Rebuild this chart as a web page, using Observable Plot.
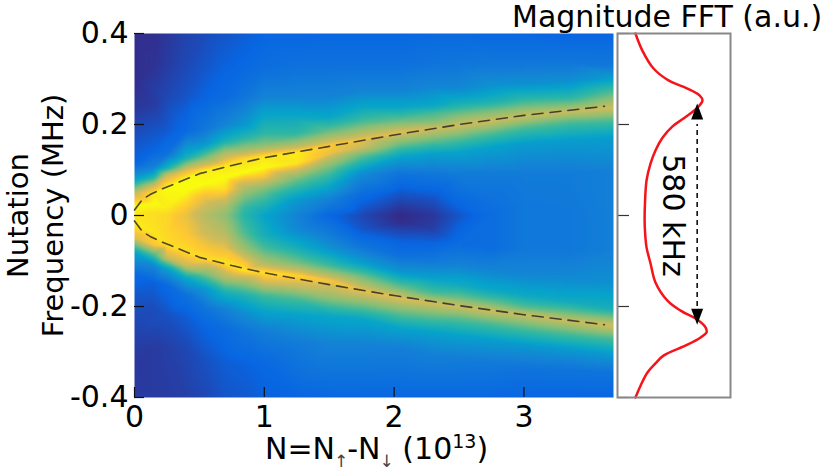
<!DOCTYPE html>
<html><head><meta charset="utf-8">
<script src="https://cdn.jsdelivr.net/npm/d3@7"></script>
<script src="https://cdn.jsdelivr.net/npm/@observablehq/plot@0.6"></script>
<style>
html,body{margin:0;padding:0;background:#fff}
#wrap{position:relative;width:830px;height:470px;font-family:"DejaVu Sans",sans-serif;color:#000;overflow:hidden}
#wrap svg{position:absolute;left:0;top:0;background:transparent}
.lbl{position:absolute;white-space:nowrap;font-size:30px;line-height:30px}
.lbl sub{font-size:17px;line-height:0;color:#444;vertical-align:-8px;margin:0 -1px}
.lbl sup{font-size:19px;line-height:0;vertical-align:11px}
</style></head><body><div id="wrap"></div>
<script>
// Heat map samples, one column per N value
const colX = [0, 0.15, 0.25, 0.4, 0.55, 0.7, 0.85, 1, 1.25, 1.5, 1.75, 2.05, 2.3, 2.5, 2.75, 3, 3.35, 3.69];
const colY = [
 [.4,.3,.237,.17,.114,.077,.048,.02,0,-.02,-.05,-.08,-.13,-.19,-.257,-.33,-.4],
 [.4,.33,.246,.193,.143,.105,.083,.066,.048,.026,.004,-.007,-.037,-.066,-.088,-.11,-.147,-.205,-.29,-.4],
 [.4,.334,.26,.187,.136,.105,.088,.06,.018,0,-.037,-.066,-.092,-.117,-.154,-.22,-.29,-.4],
 [.4,.334,.26,.187,.128,.1,.08,.055,.018,0,-.044,-.08,-.11,-.138,-.176,-.22,-.29,-.4],
 [.4,.334,.26,.19,.158,.125,.1,.07,.033,0,-.037,-.07,-.095,-.128,-.16,-.205,-.25,-.323,-.4],
 [.4,.334,.26,.2,.165,.136,.11,.083,.055,.018,0,-.037,-.073,-.105,-.138,-.17,-.205,-.248,-.323,-.4],
 [.4,.334,.26,.2,.171,.143,.125,.095,.062,.018,0,-.037,-.073,-.103,-.121,-.147,-.176,-.213,-.257,-.33,-.4],
 [.4,.33,.26,.224,.18,.155,.13,.105,.083,.055,.01,0,-.044,-.073,-.103,-.125,-.147,-.176,-.213,-.257,-.33,-.4],
 [.4,.334,.26,.21,.18,.154,.138,.114,.077,.033,0,-.03,-.066,-.103,-.132,-.154,-.182,-.22,-.28,-.4],
 [.4,.334,.26,.215,.187,.154,.136,.105,.06,.033,0,-.044,-.073,-.11,-.143,-.182,-.22,-.28,-.4],
 [.4,.334,.275,.237,.205,.167,.15,.132,.092,.048,0,-.03,-.066,-.103,-.132,-.165,-.191,-.226,-.28,-.4],
 [.4,.334,.275,.237,.21,.183,.158,.128,.092,.048,.012,0,-.015,-.05,-.088,-.125,-.158,-.182,-.213,-.25,-.292,-.4],
 [.4,.334,.28,.24,.226,.204,.191,.165,.136,.092,.04,0,-.03,-.066,-.103,-.138,-.171,-.193,-.22,-.257,-.308,-.4],
 [.4,.334,.28,.246,.22,.198,.17,.138,.092,.026,0,-.06,-.11,-.154,-.182,-.2,-.226,-.264,-.314,-.4],
 [.4,.334,.285,.25,.228,.208,.18,.15,.092,.03,0,-.07,-.12,-.165,-.193,-.21,-.238,-.275,-.325,-.4],
 [.4,.334,.29,.257,.237,.218,.193,.158,.092,.026,0,-.073,-.132,-.176,-.202,-.218,-.248,-.286,-.336,-.4],
 [.4,.334,.295,.26,.24,.228,.205,.165,.092,0,-.073,-.14,-.19,-.215,-.232,-.26,-.296,-.34,-.4],
 [.4,.33,.303,.268,.237,.209,.17,.095,0,-.073,-.147,-.205,-.242,-.27,-.308,-.345,-.4]
];
const colV = [
 [.01,.01,.03,.09,.14,.45,.85,1,.97,.98,.88,.45,.16,.09,.06,.03,.04],
 [.01,.02,.04,.09,.14,.3,.55,.85,.98,1,.96,.96,.97,.92,.6,.32,.13,.08,.04,.04],
 [.03,.04,.07,.11,.2,.5,.85,1,.98,.95,.95,.96,.85,.42,.16,.09,.05,.04],
 [.06,.07,.1,.16,.5,.88,1,1,.93,.9,.93,.96,.85,.45,.2,.12,.07,.05],
 [.08,.1,.14,.24,.38,.72,.98,1,.88,.8,.85,.92,.96,.7,.4,.22,.14,.09,.07],
 [.1,.13,.17,.3,.5,.8,.97,1,.95,.78,.73,.8,.9,.97,.78,.5,.3,.18,.12,.1],
 [.12,.15,.23,.38,.55,.78,.95,1,.8,.58,.55,.62,.75,.92,.97,.75,.52,.35,.22,.13,.11],
 [.14,.18,.3,.43,.57,.72,.97,1,.9,.68,.47,.43,.5,.62,.78,.97,.86,.6,.42,.27,.15,.13],
 [.14,.2,.3,.48,.57,.8,.98,.97,.66,.38,.3,.32,.47,.68,.95,.84,.62,.42,.26,.14],
 [.15,.2,.3,.45,.65,.93,.9,.68,.42,.28,.15,.27,.37,.6,.92,.72,.45,.3,.15],
 [.15,.2,.3,.45,.62,.9,.85,.66,.34,.18,.07,.1,.22,.4,.66,.9,.72,.45,.3,.15],
 [.15,.2,.3,.45,.65,.88,.68,.42,.22,.1,.02,0,.01,.11,.2,.38,.66,.88,.66,.42,.28,.15],
 [.16,.22,.32,.46,.6,.72,.86,.66,.42,.24,.1,.03,.05,.15,.26,.42,.62,.86,.66,.42,.28,.15],
 [.16,.23,.32,.5,.7,.85,.64,.42,.26,.15,.1,.17,.3,.48,.68,.85,.64,.42,.27,.15],
 [.15,.24,.36,.52,.7,.85,.62,.42,.26,.2,.18,.18,.3,.46,.68,.85,.62,.4,.25,.15],
 [.15,.24,.35,.55,.7,.84,.62,.4,.26,.24,.24,.24,.32,.46,.64,.84,.62,.38,.22,.14],
 [.14,.24,.35,.55,.72,.84,.62,.4,.26,.24,.24,.33,.48,.68,.84,.62,.38,.22,.14],
 [.14,.24,.4,.65,.86,.62,.4,.28,.28,.28,.35,.5,.86,.62,.38,.22,.14]
];
const heat = colX.flatMap((x, i) => colY[i].map((y, j) => ({x, y, v: colV[i][j]})));

// Parula-like colour stops
const colorStops = [0, .14, .29, .43, .57, .71, .86, .93, 1];
const colorRange = ["#352a87","#0866e2","#1481d6","#06a4ca","#2eb7a4","#87bf77","#d1bb59","#fec832","#f9fb0e"];

// Dashed fit lines
const fitX = [0, .06, .12, .2, .34, .5, .75, 1, 1.5, 2, 2.5, 3, 3.62];
const fitUp = [.012, .035, .046, .057, .073, .092, .11, .127, .152, .177, .2, .22, .24];
const fitDown = [-.012, -.035, -.046, -.057, -.073, -.092, -.11, -.126, -.152, -.176, -.198, -.218, -.24];

// FFT slice
const fftM = [.159,.219,.319,.451,.619,.726,.752,.708,.584,.487,.398,.336,.292,.257,.243,.24,.243,.257,.292,.336,.442,.558,.708,.779,.788,.735,.619,.407,.336,.265,.204,.159];
const fftY = [.4,.363,.323,.297,.279,.264,.253,.237,.213,.196,.171,.143,.114,.077,.026,-.011,-.033,-.07,-.105,-.147,-.187,-.209,-.229,-.246,-.257,-.268,-.284,-.308,-.325,-.345,-.374,-.4];

const xTicks = [0, 1, 2, 3];
const yTicks = [.4, .2, 0, -.2, -.4];
const arrowM = .705, arrowTop = .246, arrowBottom = -.24;

const up = {draw(c){c.moveTo(0,0);c.lineTo(6,16);c.lineTo(-6,16);c.closePath();}};
const down = {draw(c){c.moveTo(0,0);c.lineTo(6,-16);c.lineTo(-6,-16);c.closePath();}};
const font = '"DejaVu Sans", sans-serif';

const main = Plot.plot({
  width: 830, height: 470, marginLeft: 134, marginRight: 217, marginTop: 33, marginBottom: 73,
  style: {fontFamily: font, background: "transparent"},
  x: {domain: [0, 3.69], label: null},
  y: {domain: [-.4, .4], label: null},
  color: {type: "linear", domain: colorStops, range: colorRange, interpolate: "rgb"},
  marks: [
    Plot.raster(heat, {x: "x", y: "y", fill: "v", interpolate: "barycentric", x1: 0, x2: 3.69, y1: -.4, y2: .4, pixelSize: 1}),
    Plot.line(fitX, {x: d => d, y: (d, i) => fitUp[i], stroke: "#222", strokeWidth: 1.6, strokeOpacity: .8, strokeDasharray: "11,7"}),
    Plot.line(fitX, {x: d => d, y: (d, i) => fitDown[i], stroke: "#222", strokeWidth: 1.6, strokeOpacity: .8, strokeDasharray: "11,7"}),
    Plot.tickY(yTicks, {y: d => d, stroke: "#111", strokeWidth: 1.2, insetRight: 469}),
    Plot.tickX(xTicks, {x: d => d, stroke: "#111", strokeWidth: 1.2, insetTop: 354}),
    Plot.axisY(yTicks, {anchor: "left", tickSize: 0, tickPadding: 6, fontSize: 30, tickFormat: d => String(d), fill: "#000", label: null}),
    Plot.axisX(xTicks, {anchor: "bottom", tickSize: 0, tickPadding: 8, fontSize: 30, tickFormat: d => String(d), fill: "#000", label: null}),
    Plot.text(["Nutation"], {frameAnchor: "left", textAnchor: "middle", dx: -116, rotate: -90, fontSize: 29, fill: "#000"}),
    Plot.text(["Frequency (MHz)"], {frameAnchor: "left", textAnchor: "middle", dx: -81, rotate: -90, fontSize: 29, fill: "#000"})
  ]
});

const side = Plot.plot({
  width: 830, height: 470, marginLeft: 617, marginRight: 100, marginTop: 33, marginBottom: 73,
  style: {fontFamily: font, background: "transparent"},
  x: {domain: [0, 1], axis: null},
  y: {domain: [-.4, .4], axis: null},
  marks: [
    Plot.tickY(yTicks, {y: d => d, stroke: "#333", strokeWidth: 1.2, insetRight: 101}),
    Plot.line(fftM, {x: d => d, y: (d, i) => fftY[i], stroke: "#f5141a", strokeWidth: 2.5, curve: "catmull-rom"}),
    Plot.ruleX([arrowM], {y1: -.2, y2: .2, stroke: "#000", strokeWidth: 1.5, strokeDasharray: "5,4"}),
    Plot.dot([arrowM], {x: d => d, y: arrowTop, symbol: up, fill: "#000", stroke: "none"}),
    Plot.dot([arrowM], {x: d => d, y: arrowBottom, symbol: down, fill: "#000", stroke: "none"}),
    Plot.text(["580 kHz"], {x: .487, y: 0, rotate: 90, fontSize: 30, fill: "#000"}),
    Plot.frame({stroke: "#888", strokeWidth: 2})
  ]
});

const wrap = document.getElementById("wrap");
wrap.append(main, side);
const title = document.createElement("div");
title.className = "lbl";
title.style.cssText = "left:512px;top:2px;";
title.textContent = "Magnitude FFT (a.u.)";
const xl = document.createElement("div");
xl.className = "lbl";
xl.style.cssText = "left:265px;top:434px;";
xl.innerHTML = "N=N<sub>↑</sub>-N<sub>↓</sub> (10<sup>13</sup>)";
wrap.append(title, xl);
</script></body></html>
